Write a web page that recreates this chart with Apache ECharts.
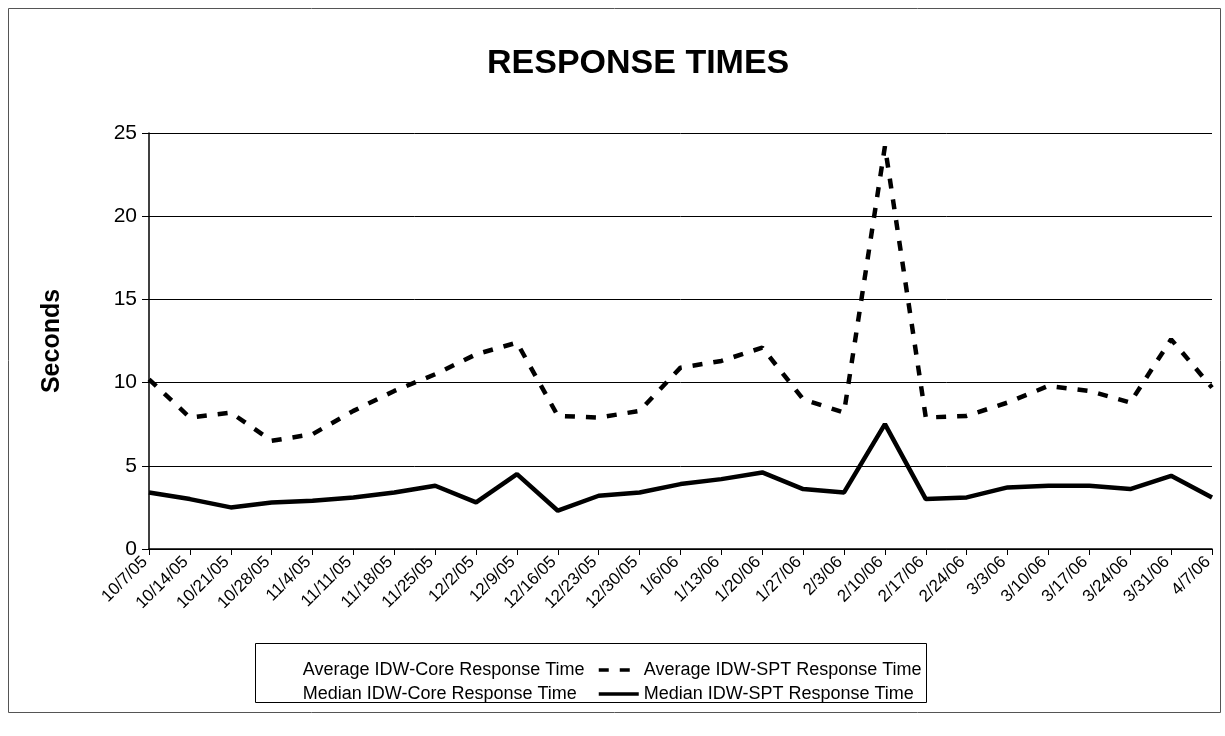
<!DOCTYPE html>
<html>
<head>
<meta charset="utf-8">
<script src="https://cdn.jsdelivr.net/npm/echarts@6/dist/echarts.min.js"></script>
<style>
  html, body { margin: 0; padding: 0; background: #ffffff; }
  #chart { width: 1225px; height: 736px; }
</style>
</head>
<body>
<div id="chart"></div>
<script>
// ---- data ----
const categories = [
  '10/7/05', '10/14/05', '10/21/05', '10/28/05', '11/4/05', '11/11/05', '11/18/05',
  '11/25/05', '12/2/05', '12/9/05', '12/16/05', '12/23/05', '12/30/05', '1/6/06',
  '1/13/06', '1/20/06', '1/27/06', '2/3/06', '2/10/06', '2/17/06', '2/24/06',
  '3/3/06', '3/10/06', '3/17/06', '3/24/06', '3/31/06', '4/7/06'
];
const avgCore = [];      // no visible line in the reference
const avgSPT = [
  10.2, 7.9, 8.2, 6.5, 6.9, 8.3, 9.5,
  10.5, 11.7, 12.4, 8.0, 7.9, 8.3, 10.9,
  11.3, 12.1, 9.0, 8.2, 24.2, 7.9, 8.0,
  8.8, 9.8, 9.5, 8.8, 12.6, 9.7
];
const medianCore = [];   // no visible line in the reference
const medianSPT = [
  3.4, 3.0, 2.5, 2.8, 2.9, 3.1, 3.4,
  3.8, 2.8, 4.5, 2.3, 3.2, 3.4, 3.9,
  4.2, 4.6, 3.6, 3.4, 7.5, 3.0, 3.1,
  3.7, 3.8, 3.8, 3.6, 4.4, 3.1
];
const yMin = 0, yMax = 25, yStep = 5;
const seriesNames = [
  'Average IDW-Core Response Time',
  'Average IDW-SPT Response Time',
  'Median IDW-Core Response Time',
  'Median IDW-SPT Response Time'
];

const FONT = '"Liberation Sans", Arial, Helvetica, sans-serif';
const chart = echarts.init(document.getElementById('chart'), null, { renderer: 'canvas' });

const legendCommon = {
  orient: 'vertical',
  itemWidth: 40,
  itemHeight: 12,
  itemGap: 6,
  selectedMode: false,
  itemStyle: { opacity: 0 },
  lineStyle: { width: 3.5 },
  textStyle: { fontFamily: FONT, fontSize: 18, color: '#000' }
};

chart.setOption({
  backgroundColor: '#ffffff',
  animation: false,
  title: {
    text: 'RESPONSE TIMES',
    left: 482,
    top: 42,
    textStyle: { fontFamily: FONT, fontSize: 34, fontWeight: 'bold', color: '#000' }
  },
  grid: { left: 149, right: 13, top: 133, bottom: 187, containLabel: false },
  legend: [
    Object.assign({}, legendCommon, {
      left: 251, top: 656,
      data: [seriesNames[0], seriesNames[2]]
    }),
    Object.assign({}, legendCommon, {
      left: 592, top: 656,
      data: [seriesNames[1], seriesNames[3]]
    })
  ],
  xAxis: {
    type: 'category',
    data: categories,
    boundaryGap: false,
    axisLine: { lineStyle: { color: '#000', width: 1.5 } },
    axisTick: { show: true, alignWithLabel: true, length: 6, lineStyle: { color: '#000' } },
    axisLabel: {
      interval: 0,
      rotate: 45,
      margin: 6,
      padding: [0, 6, 0, 0],
      fontFamily: FONT,
      fontSize: 17,
      color: '#000'
    },
    splitLine: { show: false }
  },
  yAxis: {
    type: 'value',
    min: yMin,
    max: yMax,
    interval: yStep,
    name: 'Seconds',
    nameLocation: 'middle',
    nameRotate: 90,
    nameGap: 84,
    nameTextStyle: { fontFamily: FONT, fontSize: 25, fontWeight: 'bold', color: '#000' },
    axisLine: { show: true, lineStyle: { color: '#000', width: 1.5 } },
    axisTick: { show: true, length: 7, lineStyle: { color: '#000' } },
    axisLabel: { fontFamily: FONT, fontSize: 21, color: '#000', margin: 12 },
    splitLine: { show: true, lineStyle: { color: '#000', width: 1 } }
  },
  series: [
    {
      name: seriesNames[0], type: 'line', data: avgCore, symbol: 'none',
      itemStyle: { color: 'rgba(0,0,0,0)' },
      lineStyle: { color: 'rgba(0,0,0,0)', width: 0 }
    },
    {
      name: seriesNames[1], type: 'line', data: avgSPT, symbol: 'none',
      itemStyle: { color: '#000' },
      lineStyle: { color: '#000', width: 4.5, type: [10, 11] },
      z: 3
    },
    {
      name: seriesNames[2], type: 'line', data: medianCore, symbol: 'none',
      itemStyle: { color: 'rgba(0,0,0,0)' },
      lineStyle: { color: 'rgba(0,0,0,0)', width: 0 }
    },
    {
      name: seriesNames[3], type: 'line', data: medianSPT, symbol: 'none',
      itemStyle: { color: '#000' },
      lineStyle: { color: '#000', width: 4.5, type: 'solid' },
      z: 4
    }
  ],
  graphic: [
    {
      type: 'rect',
      shape: { x: 8.5, y: 8.5, width: 1212, height: 704 },
      style: { fill: 'none', stroke: '#555', lineWidth: 1 },
      silent: true
    },
    {
      type: 'rect',
      shape: { x: 255.5, y: 643.5, width: 671, height: 59 },
      style: { fill: 'none', stroke: '#000', lineWidth: 1 },
      silent: true
    }
  ]
});
</script>
</body>
</html>
